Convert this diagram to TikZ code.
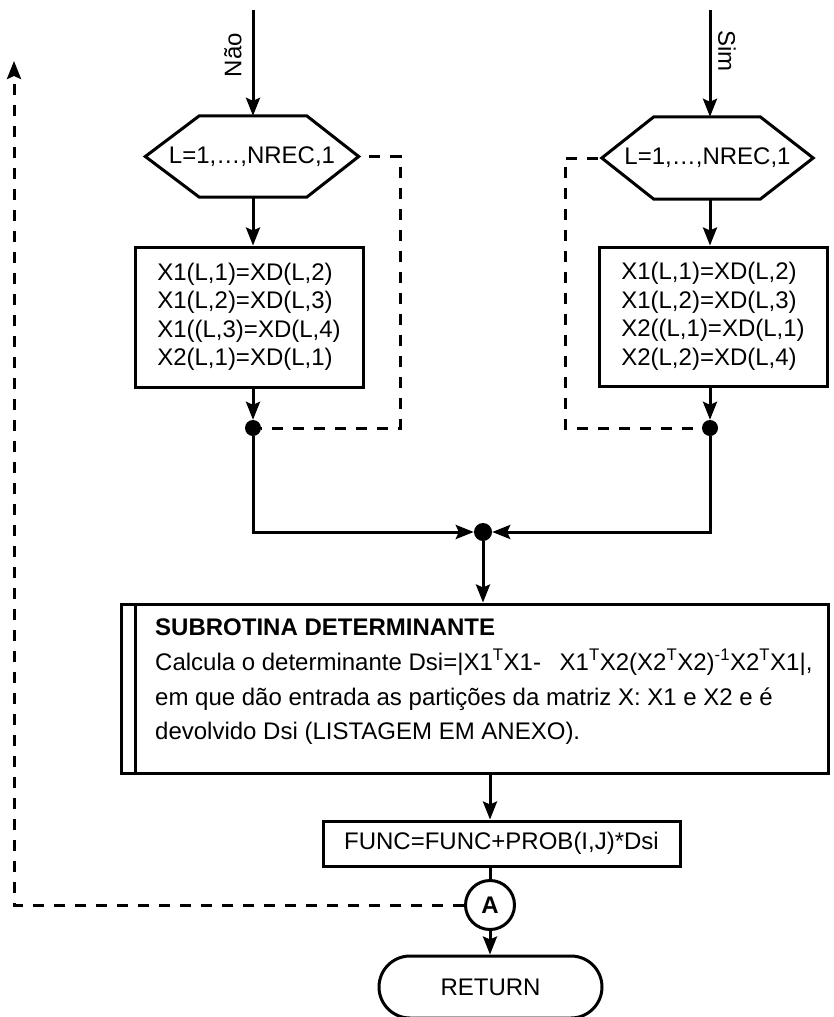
\documentclass[tikz,border=0pt]{standalone}
\usepackage{fontspec}
\setmainfont{Liberation Sans}
\usetikzlibrary{shapes.misc,arrows.meta}
\begin{document}
\begin{tikzpicture}[x=1pt,y=-1pt,
  fnt/.style={font=\fontsize{24}{28.5}\selectfont},
  every node/.style={fnt},
  ln/.style={line width=3pt},
  dsh/.style={line width=3pt, dash pattern=on 11pt off 10pt},
  arr/.style={-{Stealth[length=18pt,width=14pt,inset=3pt]}},
  boxn/.style={draw, line width=3pt, inner sep=0pt},
  dotn/.style={circle, fill, inner sep=0pt, minimum size=16pt},
  txt/.style={anchor=base west, inner sep=0pt}
]
\useasboundingbox (0,0) rectangle (834,1017);

% top entries
\coordinate (topL) at (253,10);
\coordinate (topR) at (710,10);
\node[rotate=90] (nao) at (233,55) {Não};
\node[rotate=-90] (sim) at (727,51) {Sim};

% hexagons
\node[minimum width=213pt,minimum height=81pt,inner sep=0pt] (hexL) at (252,156.5) {L=1,…,NREC,1};
\draw[ln, line join=miter] (hexL.west) -- ([xshift=54pt]hexL.north west) -- ([xshift=-52pt]hexL.north east) -- (hexL.east) -- ([xshift=-52pt]hexL.south east) -- ([xshift=54pt]hexL.south west) -- cycle;
\node[minimum width=211pt,minimum height=82pt,inner sep=0pt] (hexR) at (707.5,158) {L=1,…,NREC,1};
\draw[ln, line join=miter] (hexR.west) -- ([xshift=52pt]hexR.north west) -- ([xshift=-53pt]hexR.north east) -- (hexR.east) -- ([xshift=-53pt]hexR.south east) -- ([xshift=52pt]hexR.south west) -- cycle;

\draw[ln,arr] (topL) -- (topL |- hexL.north);
\draw[ln,arr] (topR) -- (topR |- hexR.north);

% assignment boxes
\node[boxn, minimum width=228pt, minimum height=140pt, align=left] (boxL) at (249,317)
  {X1(L,1)=XD(L,2)\\X1(L,2)=XD(L,3)\\X1((L,3)=XD(L,4)\\X2(L,1)=XD(L,1)};
\node[boxn, minimum width=228pt, minimum height=139pt, align=left] (boxR) at (713,316.5)
  {X1(L,1)=XD(L,2)\\X1(L,2)=XD(L,3)\\X2((L,1)=XD(L,1)\\X2(L,2)=XD(L,4)};

\draw[ln,arr] (topL |- hexL.south) -- (topL |- boxL.north);
\draw[ln,arr] (topR |- hexR.south) -- (topR |- boxR.north);

% dots
\node[dotn] (dotL) at (253,428) {};
\node[dotn] (dotR) at (710,428) {};
\node[dotn, minimum size=18pt] (junc) at (483,532) {};

\draw[ln,arr] (dotL |- boxL.south) -- (dotL.north);
\draw[ln,arr] (dotR |- boxR.south) -- (dotR.north);

% dashed bypasses
\coordinate (cL1) at (400,156.5);
\coordinate (cL2) at (400,428);
\coordinate (cR1) at (565,158);
\coordinate (cR2) at (565,428);
\draw[dsh] ([xshift=10pt]hexL.east) -- (cL1) -- (cL2) -- (dotL);
\draw[dsh] ([xshift=-4pt]hexR.west) -- (cR1) -- (cR2) -- (dotR);

% merge
\draw[ln,arr] (dotL) |- (junc.west);
\draw[ln,arr] (dotR) |- (junc.east);

% subroutine box
\node[boxn, minimum width=707pt, minimum height=169pt] (sub) at (474.5,688.5) {};
\draw[ln] ([xshift=16pt]sub.north west) -- ([xshift=16pt]sub.south west);
\node[txt, font=\fontsize{24}{28.5}\selectfont\bfseries] (s1) at (155,635) {SUBROTINA DETERMINANTE};
\node[txt] (s2) at (155,670) {Calcula o determinante Dsi=|X1\textsuperscript{T}X1-\hspace{12pt} X1\textsuperscript{T}X2(X2\textsuperscript{T}X2)\textsuperscript{-1}X2\textsuperscript{T}X1|,};
\node[txt] (s3) at (155,705) {em que dão entrada as partições da matriz X: X1 e X2 e é};
\node[txt] (s4) at (155,739) {devolvido Dsi (LISTAGEM EM ANEXO).};

\draw[ln,arr] (junc) -- (junc |- sub.north);

% lower part
\node[boxn, minimum width=357pt, minimum height=45pt] (func) at (501.5,843.5) {FUNC=FUNC+PROB(I,J)*Dsi};
\node[circle, draw, line width=3pt, minimum size=49pt, inner sep=0pt, font=\fontsize{24}{28.5}\selectfont\bfseries] (A) at (490,905) {A};
\node[draw, line width=3pt, rounded rectangle, minimum width=223pt, minimum height=62pt, inner sep=0pt] (ret) at (490.5,987) {RETURN};

\draw[ln,arr] (A |- sub.south) -- (A |- func.north);
\draw[ln] (A |- func.south) -- (A.north);
\draw[ln,arr] (A.south) -- (A |- ret.north);

% loop back
\coordinate (lp1) at (14,905);
\coordinate (lp2) at (14,61);
\draw[dsh,arr] (A.west) -- (lp1) -- (lp2);
\end{tikzpicture}
\end{document}
